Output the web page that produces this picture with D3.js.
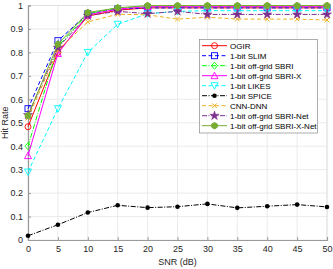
<!DOCTYPE html>
<html>
<head>
<meta charset="utf-8">
<script src="https://cdn.jsdelivr.net/npm/d3@7"></script>
<style>
  body { margin: 0; background: #fff; }
  text { font-family: "Liberation Sans", Arial, sans-serif; }
</style>
</head>
<body>
<svg id="vis" width="333" height="269"></svg>
<script>
const snr = [0, 5, 10, 15, 20, 25, 30, 35, 40, 45, 50];
const xTicks = [0, 5, 10, 15, 20, 25, 30, 35, 40, 45, 50];
const yTicks = [0, 0.1, 0.2, 0.3, 0.4, 0.5, 0.6, 0.7, 0.8, 0.9, 1];

const ogir     = [0.483, 0.80, 0.955, 0.98, 0.99, 0.99, 0.99, 0.99, 0.99, 0.99, 0.99];
const slim     = [0.56, 0.85, 0.965, 0.985, 0.99, 0.99, 0.99, 0.99, 0.99, 0.99, 0.99];
const sbri     = [0.40, 0.825, 0.965, 0.99, 0.995, 0.995, 0.995, 0.995, 0.995, 0.995, 0.995];
const sbriX    = [0.36, 0.795, 0.96, 0.985, 0.995, 0.995, 0.995, 0.995, 0.995, 0.995, 0.995];
const likes    = [0.29, 0.56, 0.80, 0.92, 0.965, 0.975, 0.978, 0.978, 0.978, 0.978, 0.978];
const spice    = [0.018, 0.065, 0.117, 0.148, 0.138, 0.142, 0.154, 0.137, 0.144, 0.151, 0.141];
const cnnDnn   = [0.52, 0.81, 0.93, 0.963, 0.96, 0.942, 0.95, 0.942, 0.942, 0.942, 0.938];
const sbriNet  = [0.533, 0.82, 0.957, 0.975, 0.965, 0.975, 0.962, 0.962, 0.962, 0.962, 0.962];
const sbriXNet = [0.53, 0.835, 0.97, 0.99, 1.0, 1.0, 1.0, 1.0, 1.0, 1.0, 1.0];

const series = [
  { name: 'OGIR', values: ogir, color: '#ff0000', dash: null, marker: 'circle' },
  { name: '1-bit SLIM', values: slim, color: '#0000ff', dash: '4,2.5', marker: 'square' },
  { name: '1-bit off-grid SBRI', values: sbri, color: '#00ff00', dash: '5,1.5,1,1.5', marker: 'diamond' },
  { name: '1-bit off-grid SBRI-X', values: sbriX, color: '#ff00ff', dash: null, marker: 'triangle' },
  { name: '1-bit LIKES', values: likes, color: '#00ffff', dash: '4,2.5', marker: 'triangleDown' },
  { name: '1-bit SPICE', values: spice, color: '#000000', dash: '5,1.5,1,1.5', marker: 'dot' },
  { name: 'CNN-DNN', values: cnnDnn, color: '#edb120', dash: '4,2.5', marker: 'cross' },
  { name: '1-bit off-grid SBRI-Net', values: sbriNet, color: '#7e2f8e', dash: '5,1.5,1,1.5', marker: 'star' },
  { name: '1-bit off-grid SBRI-X-Net', values: sbriXNet, color: '#77ac30', dash: null, marker: 'hex' }
];

const svg = d3.select('#vis');
const x = d3.scaleLinear().domain([0, 50]).range([28, 327]);
const y = d3.scaleLinear().domain([0, 1]).range([240, 5.5]);

// grid
svg.append('g').selectAll('line').data(xTicks).join('line')
  .attr('x1', d => x(d)).attr('x2', d => x(d))
  .attr('y1', y(0)).attr('y2', y(1))
  .attr('stroke', '#e6e6e6').attr('stroke-width', 0.8);
svg.append('g').selectAll('line').data(yTicks).join('line')
  .attr('x1', x(0)).attr('x2', x(50))
  .attr('y1', d => y(d)).attr('y2', d => y(d))
  .attr('stroke', '#e6e6e6').attr('stroke-width', 0.8);

// top / right box edges
svg.append('path')
  .attr('d', `M${x(0)},${y(1)}H${x(50)}V${y(0)}`)
  .attr('fill', 'none').attr('stroke', '#dcdcdc').attr('stroke-width', 0.8);

// axes
const xAxis = d3.axisBottom(x).tickValues(xTicks).tickSize(-3).tickPadding(6);
const yAxis = d3.axisLeft(y).tickValues(yTicks).tickSize(-3).tickPadding(5)
  .tickFormat(d => d === 0 || d === 1 ? d3.format('d')(d) : d3.format('.1f')(d));

const gx = svg.append('g').attr('transform', `translate(0,${y(0)})`).call(xAxis);
const gy = svg.append('g').attr('transform', `translate(${x(0)},0)`).call(yAxis);
[gx, gy].forEach(g => {
  g.select('.domain').attr('stroke', '#9a9a9a').attr('stroke-width', 1.2);
  g.selectAll('.tick line').attr('stroke', '#9a9a9a');
  g.selectAll('.tick text').attr('fill', '#262626').style('font-size', '9px')
    .style('font-family', '"Liberation Sans", Arial, sans-serif');
});

svg.append('text').attr('x', x(25)).attr('y', 265).attr('text-anchor', 'middle')
  .attr('fill', '#262626').style('font-size', '9px').text('SNR (dB)');
svg.append('text').attr('transform', `translate(8,${y(0.5)}) rotate(-90)`)
  .attr('text-anchor', 'middle').attr('fill', '#262626').style('font-size', '9px').text('Hit Rate');

// marker drawer
function drawMarker (g, type, color, cx, cy) {
  const s = 3;
  if (type === 'circle') {
    g.append('circle').attr('cx', cx).attr('cy', cy).attr('r', s)
      .attr('fill', 'none').attr('stroke', color).attr('stroke-width', 0.9);
  } else if (type === 'square') {
    g.append('rect').attr('x', cx - s).attr('y', cy - s).attr('width', 2 * s).attr('height', 2 * s)
      .attr('fill', 'none').attr('stroke', color).attr('stroke-width', 0.9);
  } else if (type === 'diamond') {
    g.append('path').attr('d', `M${cx},${cy - s - 0.5}L${cx + s},${cy}L${cx},${cy + s + 0.5}L${cx - s},${cy}Z`)
      .attr('fill', 'none').attr('stroke', color).attr('stroke-width', 0.9);
  } else if (type === 'triangle') {
    g.append('path').attr('d', `M${cx},${cy - s - 0.5}L${cx + s + 0.5},${cy + s}L${cx - s - 0.5},${cy + s}Z`)
      .attr('fill', 'none').attr('stroke', color).attr('stroke-width', 0.9);
  } else if (type === 'triangleDown') {
    g.append('path').attr('d', `M${cx},${cy + s + 0.5}L${cx + s + 0.5},${cy - s}L${cx - s - 0.5},${cy - s}Z`)
      .attr('fill', 'none').attr('stroke', color).attr('stroke-width', 0.9);
  } else if (type === 'dot') {
    g.append('circle').attr('cx', cx).attr('cy', cy).attr('r', 2.3).attr('fill', color);
  } else if (type === 'cross') {
    g.append('path').attr('d', `M${cx - 2.3},${cy - 2.3}L${cx + 2.3},${cy + 2.3}M${cx + 2.3},${cy - 2.3}L${cx - 2.3},${cy + 2.3}`)
      .attr('stroke', color).attr('stroke-width', 1);
  } else if (type === 'star') {
    g.append('path').attr('d', d3.symbol(d3.symbolStar, 26)()).attr('transform', `translate(${cx},${cy})`)
      .attr('fill', color).attr('stroke', color).attr('stroke-width', 0.5);
  } else if (type === 'hex') {
    const pts = d3.range(6).map(i => {
      const a = Math.PI / 6 + i * Math.PI / 3;
      return [cx + 3.2 * Math.cos(a), cy + 3.2 * Math.sin(a)];
    });
    g.append('path').attr('d', 'M' + pts.join('L') + 'Z').attr('fill', color).attr('stroke', color);
  }
}

const line = d3.line().x((d, i) => x(snr[i])).y(d => y(d));
const plot = svg.append('g');
series.forEach(s => {
  const g = plot.append('g');
  g.append('path').datum(s.values).attr('d', line)
    .attr('fill', 'none').attr('stroke', s.color).attr('stroke-width', 1)
    .attr('stroke-dasharray', s.dash);
  s.values.forEach((v, i) => drawMarker(g, s.marker, s.color, x(snr[i]), y(v)));
});

// legend
const lg = svg.append('g');
lg.append('rect').attr('x', 199.5).attr('y', 39.5).attr('width', 118).attr('height', 93.5)
  .attr('fill', '#fff').attr('stroke', '#9a9a9a').attr('stroke-width', 0.8);
series.forEach((s, i) => {
  const ly = 45.7 + i * 10;
  lg.append('line').attr('x1', 202).attr('x2', 227).attr('y1', ly).attr('y2', ly)
    .attr('stroke', s.color).attr('stroke-width', 1).attr('stroke-dasharray', s.dash);
  drawMarker(lg, s.marker, s.color, 214.5, ly);
  lg.append('text').attr('x', 230).attr('y', ly + 3).attr('fill', '#000')
    .style('font-size', '8px').text(s.name);
});
</script>
</body>
</html>
